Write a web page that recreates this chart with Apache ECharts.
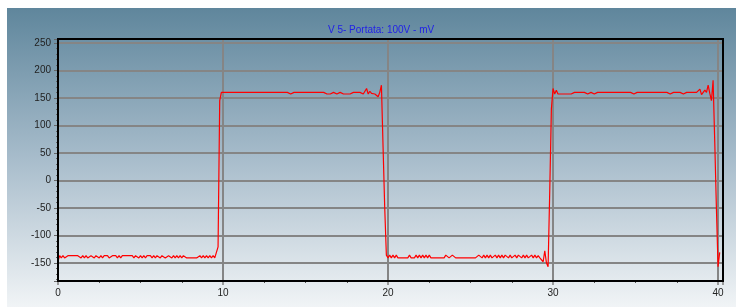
<!DOCTYPE html>
<html>
<head>
<meta charset="utf-8">
<script src="https://cdn.jsdelivr.net/npm/echarts@6/dist/echarts.min.js"></script>
<style>
  html, body { margin: 0; padding: 0; background: #fff; }
  #main { width: 736px; height: 307px; }
</style>
</head>
<body>
<div id="main"></div>
<script>
// campioni a passo fisso (unità asse X)
var step = 0.1;

// 0.0 - 9.6  livello basso
var lowA = [
  -147,-137,-141,-137,-141,-141,-137,-137,-137,-137,
  -137,-137,-137,-137,-141,-137,-141,-137,-141,-141,
  -137,-137,-141,-137,-137,-141,-137,-141,-137,-137,
  -137,-141,-141,-137,-137,-137,-141,-137,-141,-137,
  -137,-137,-137,-137,-137,-137,-141,-137,-137,-141,
  -137,-141,-137,-141,-137,-137,-137,-141,-137,-141,
  -137,-137,-141,-137,-137,-141,-141,-137,-137,-141,
  -137,-141,-137,-141,-137,-141,-137,-137,-141,-141,
  -141,-141,-141,-141,-141,-141,-137,-141,-137,-141,
  -137,-141,-137,-141,-137,-141,-139
];
// 9.7 - 9.8  salita
var riseA = [-121, 145];
// 9.9 - 19.6  livello alto
var highB = [
  160,
  160,160,160,160,160,160,160,160,160,160,
  160,160,160,160,160,160,160,160,160,160,
  160,160,157,160,160,160,160,160,160,160,
  160,160,160,160,160,160,160,160,160,160,
  157,157,160,160,160,160,160,160,160,160,
  160,160,160,160,157,160,160,160,157,160,
  157,160,160,157,160,157,160,160,160,157,
  160,160,160,157,160,157,160,157,160,160,
  157,160,157,160,160,157,160,167,157,162,
  158,161,157,160,152,160,173
];
// 19.7 - 19.8  discesa
var fallB = [60, -50];
// 19.9 - 29.7  livello basso
var lowC = [
  -136,
  -141,-136,-141,-136,-141,-136,-141,-141,-141,-141,
  -141,-141,-141,-136,-141,-141,-141,-136,-141,-136,
  -141,-136,-141,-136,-141,-136,-141,-141,-141,-141,
  -141,-141,-141,-141,-141,-136,-136,-141,-141,-136,
  -136,-141,-141,-141,-141,-141,-141,-141,-141,-141,
  -141,-141,-141,-141,-141,-136,-136,-141,-136,-141,
  -136,-141,-136,-141,-141,-136,-141,-136,-141,-136,
  -141,-136,-136,-141,-136,-141,-141,-136,-141,-136,
  -136,-141,-136,-141,-136,-141,-141,-136,-141,-136,
  -141,-137,-141,-139,-148,-128,-150,-157
];
// 29.8 - 29.9  salita
var riseC = [-20, 130];
// 30.0 - 39.7  livello alto
var highD = [
  167,157,164,157,160,157,160,157,160,157,
  160,157,160,160,160,160,160,160,160,160,
  160,157,160,160,160,157,160,160,160,160,
  160,160,160,160,160,160,160,160,157,160,
  160,160,160,160,160,160,160,160,157,157,
  160,160,160,160,160,160,160,160,160,160,
  160,160,160,160,160,160,160,160,160,160,
  160,157,160,160,160,160,160,160,160,157,
  157,160,160,160,160,160,160,160,160,166,
  156,160,164,160,173,158,145,182
];
// 39.8 - 40.1  discesa finale
var fallD = [70, -50, -157, -131];

var xTicks = [0, 10, 20, 30, 40];
var yTicks = [-150, -100, -50, 0, 50, 100, 150, 200, 250];

var mv = [].concat(lowA, riseA, highB, fallB, lowC, riseC, highD, fallD);
var punti = mv.map(function (v, i) {
    return [Math.round(i * step * 10) / 10, v];
});

var myChart = echarts.init(document.getElementById('main'));

var option = {
    animation: false,
    backgroundColor: '#ffffff',
    graphic: [{
        type: 'rect',
        left: 7, top: 8,
        shape: { width: 729, height: 299 },
        z: -10,
        silent: true,
        style: {
            fill: new echarts.graphic.LinearGradient(0, 0, 0, 1, [
                { offset: 0, color: '#5f869c' },
                { offset: 0.5, color: '#a7bccb' },
                { offset: 1, color: '#f1f4f6' }
            ])
        }
    }],
    title: {
        text: 'V 5- Portata: 100V - mV',
        left: 323,
        top: 20,
        textStyle: {
            color: '#2222e6',
            fontSize: 10,
            fontWeight: 'normal',
            fontFamily: 'Liberation Sans'
        }
    },
    grid: {
        left: 58, top: 39, right: 13, bottom: 26,
        show: true,
        z: 5,
        backgroundColor: 'transparent',
        borderColor: '#000',
        borderWidth: 2
    },
    xAxis: {
        type: 'value',
        min: 0,
        max: 40.3,
        interval: 10,
        axisLine: { show: false, onZero: false },
        axisTick: { show: true, length: 4, lineStyle: { color: '#808080', width: 1.5 } },
        minorTick: { show: true, splitNumber: 4, length: 2, lineStyle: { color: '#555' } },
        axisLabel: {
            margin: 7,
            color: '#222',
            fontSize: 10,
            fontFamily: 'Liberation Sans',
            showMaxLabel: false,
            formatter: function (v) { return xTicks.indexOf(v) >= 0 ? String(v) : ''; }
        },
        splitLine: { show: true, showMinLine: false, showMaxLine: false, lineStyle: { color: '#858585', width: 2 } }
    },
    yAxis: {
        type: 'value',
        min: -183,
        max: 257,
        splitNumber: 9,
        axisLine: { show: false, onZero: false },
        axisTick: { show: true, length: 4, lineStyle: { color: '#666', width: 1 } },
        minorTick: { show: true, splitNumber: 5, length: 2, lineStyle: { color: '#666' } },
        axisLabel: {
            margin: 7,
            color: '#222',
            fontSize: 10,
            fontFamily: 'Liberation Sans',
            showMinLabel: false,
            showMaxLabel: false,
            formatter: function (v) { return yTicks.indexOf(v) >= 0 ? String(v) : ''; }
        },
        splitLine: { show: true, showMinLine: false, showMaxLine: false, lineStyle: { color: '#858585', width: 2 } }
    },
    series: [{
        type: 'line',
        data: punti,
        showSymbol: false,
        color: '#ff0000',
        lineStyle: { color: '#ff0000', width: 1.2 }
    }]
};

myChart.setOption(option);
</script>
</body>
</html>
